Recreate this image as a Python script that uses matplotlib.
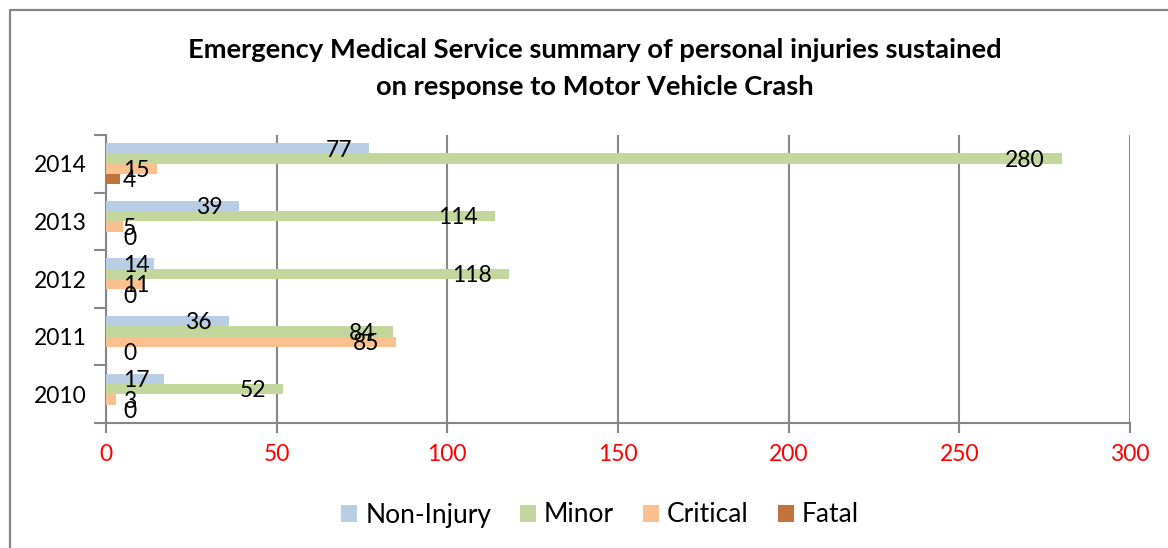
import matplotlib
matplotlib.use("Agg")
import matplotlib.pyplot as plt
from matplotlib.lines import Line2D
import numpy as np

years = ["2010", "2011", "2012", "2013", "2014"]
series_names = ["Non-Injury", "Minor", "Critical", "Fatal"]
non_injury = [17, 36, 14, 39, 77]
minor = [52, 84, 118, 114, 280]
critical = [3, 85, 11, 5, 15]
fatal = [0, 0, 0, 0, 4]
x_ticks = [0, 50, 100, 150, 200, 250, 300]
title_lines = ["Emergency Medical Service summary of personal injuries sustained",
               "on response to Motor Vehicle Crash"]

colors = ["#B9CDE5", "#C3D69B", "#FAC090", "#C0733A"]
series = [non_injury, minor, critical, fatal]

plt.rcParams['font.family'] = ['Lato', 'DejaVu Sans']

W, H = 1168, 548
fig = plt.figure(figsize=(W / 100, H / 100), dpi=100)
ax = fig.add_axes([106 / W, 1 - 423 / H, (1130 - 106) / W, (423 - 135) / H])

bar_h = 0.179
ypos = np.arange(len(years))
bars_all = []
for k, (name, vals, col) in enumerate(zip(series_names, series, colors)):
    off = (1.5 - k) * bar_h
    b = ax.barh(ypos + off, vals, height=bar_h, color=col, label=name, zorder=3)
    bars_all.append((b, vals, off))

ax.set_xlim(0, 300)
ax.set_ylim(-0.5, len(years) - 0.5)
ax.set_xticks(x_ticks)
ax.set_xticklabels([str(v) for v in x_ticks], color="red", fontsize=16.5)
ax.set_yticks(ypos)
ax.set_yticklabels(years, fontsize=16.5)
ax.set_yticks(np.arange(-0.5, len(years), 1.0), minor=True)
ax.tick_params(axis='y', which='major', length=0, pad=14)
ax.tick_params(axis='y', which='minor', length=9, width=1.5, color="#868686", direction='out')
ax.tick_params(axis='x', which='major', length=7, width=1.5, color="#868686", direction='out', pad=8)
ax.xaxis.grid(True, color="#868686", linewidth=1.5, zorder=0)
for s in ["top", "right"]:
    ax.spines[s].set_visible(False)
for s in ["left", "bottom"]:
    ax.spines[s].set_color("#868686")
    ax.spines[s].set_linewidth(1.5)

# data labels (inside end, clamped to inside base)
fig.canvas.draw()
renderer = fig.canvas.get_renderer()
x0_disp = ax.transData.transform((0, 0))[0]
pad = 17
for b, vals, off in bars_all:
    for i, v in enumerate(vals):
        t = ax.text(v, ypos[i] + off, str(v), fontsize=16.5, ha='right', va='center', zorder=5)
        bb = t.get_window_extent(renderer)
        wtxt = bb.width
        xend = ax.transData.transform((v, 0))[0]
        right = xend - pad
        if right - wtxt < x0_disp + pad:
            right = x0_disp + pad + wtxt
        xdata = ax.transData.inverted().transform((right, 0))[0]
        t.set_x(xdata)
        t.set_y(ypos[i] + off - 0.03)

fig.text(595 / W, 1 - 50 / H, title_lines[0], ha='center', va='center', fontsize=19.7,
         fontweight='bold')
fig.text(595 / W, 1 - 87 / H, title_lines[1], ha='center', va='center', fontsize=19.7,
         fontweight='bold')

leg = fig.legend(loc='center', bbox_to_anchor=(600 / W, 1 - 515 / H), ncol=4, frameon=False,
                 fontsize=19, handlelength=0.6, handleheight=0.6, handletextpad=0.3,
                 columnspacing=1.1)

# outer frame (partially visible)
fig.add_artist(Line2D([10 / W, 10 / W, 1.0], [0.0, 1 - 10 / H, 1 - 10 / H],
                      transform=fig.transFigure, color="#868686", linewidth=1.6))

fig.savefig("out.png", dpi=100)
